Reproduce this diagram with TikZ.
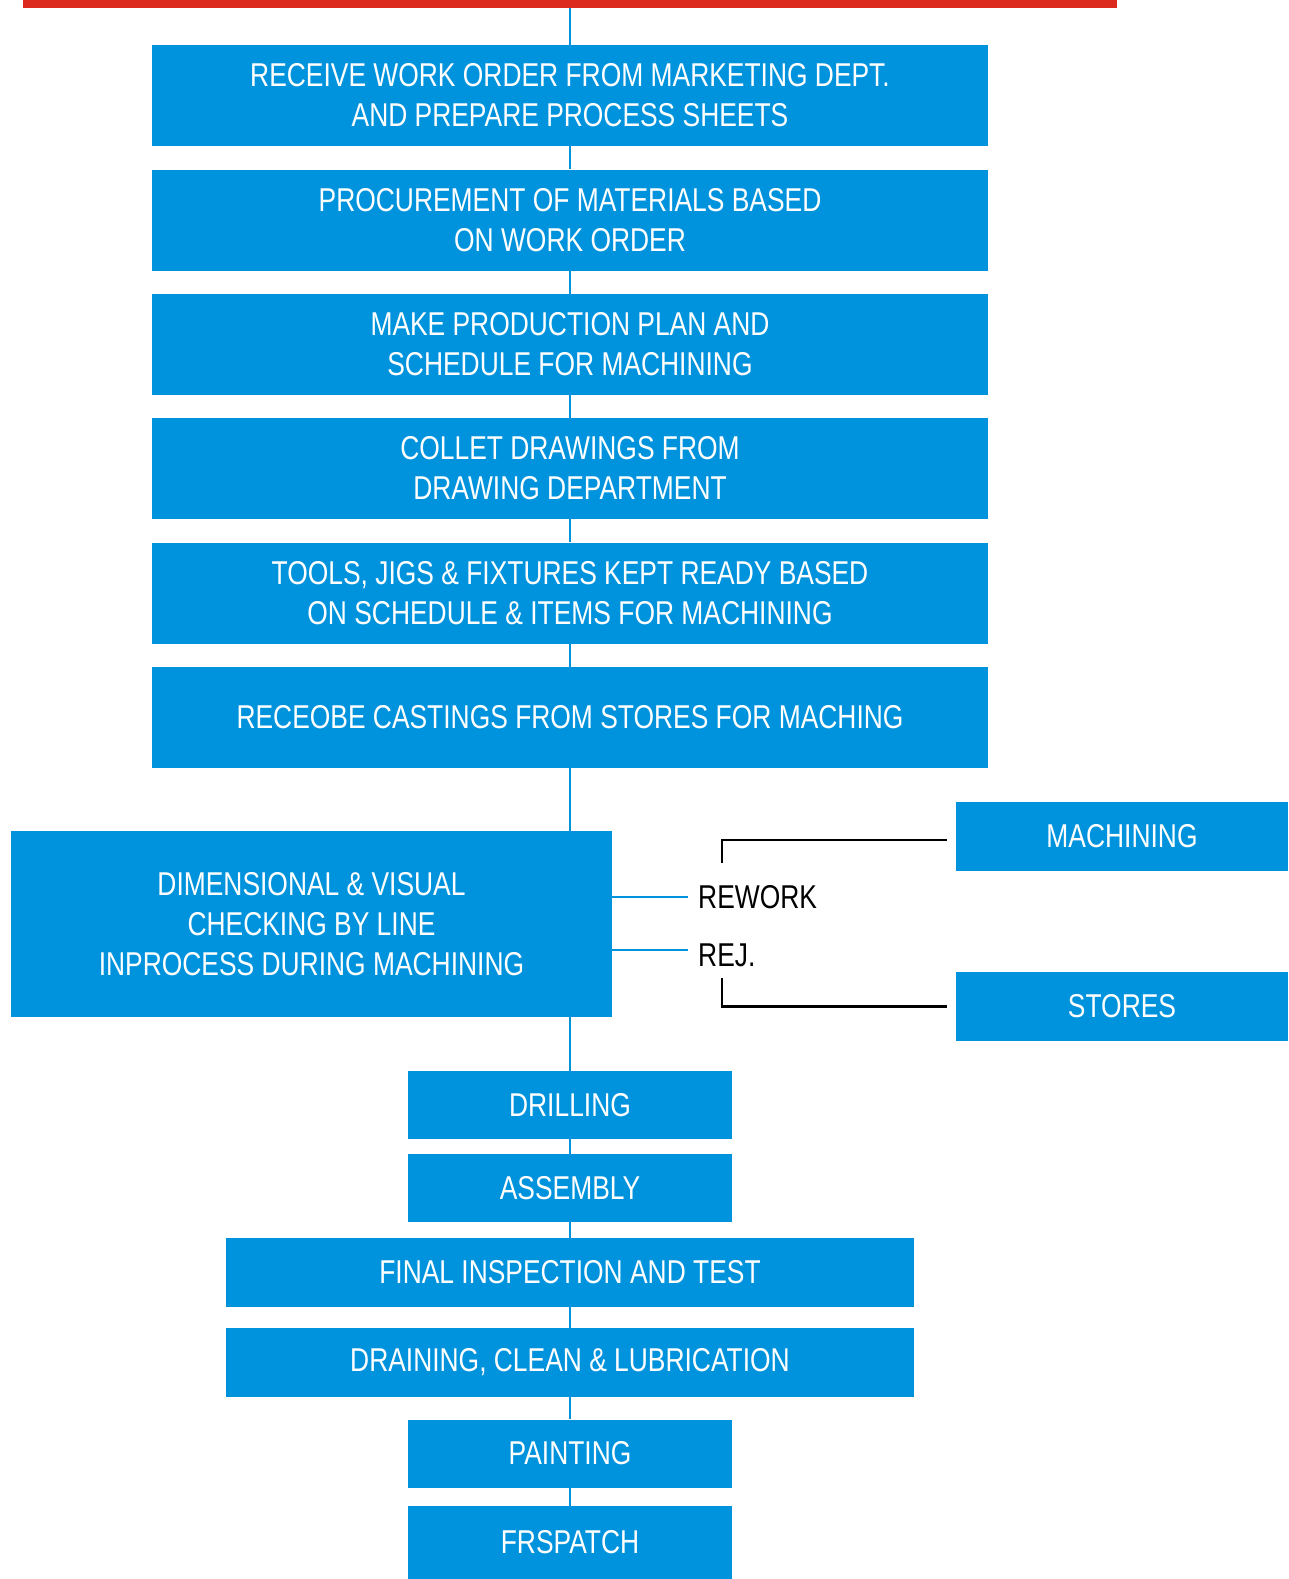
\documentclass[tikz,border=0pt]{standalone}
\usepackage{fontspec}
\setmainfont{Liberation Sans}[FakeStretch=0.8]
\usepackage{tikz}
\usetikzlibrary{positioning,calc}

\definecolor{stepblue}{HTML}{0093DD}
\definecolor{barred}{HTML}{DC2A1E}

\begin{document}
\begin{tikzpicture}[%
x=1pt,y=-1pt,
stage/.style={rectangle, fill=stepblue, text=white, inner sep=0pt,
  align=center, font=\fontsize{33}{40}\selectfont},
wide/.style={stage, minimum width=836pt, minimum height=101pt},
small/.style={stage, minimum width=324pt, minimum height=68pt},
mid/.style={stage, minimum width=688pt, minimum height=69pt},
side/.style={stage, minimum width=332pt, minimum height=69pt},
tag/.style={inner xsep=10pt, inner ysep=0pt, font=\fontsize{33}{40}\selectfont},
blueline/.style={draw=stepblue, line width=2.5pt},
blackline/.style={draw=black, line width=2.5pt}
]
\useasboundingbox (0,0) rectangle (1288,1579);

\node[fill=barred, inner sep=0pt, minimum width=1094pt, minimum height=8pt,
  anchor=north west] (bar) at (23,0) {};

\node[wide] (order) at (570,95.5) {RECEIVE WORK ORDER FROM MARKETING DEPT.\\AND PREPARE PROCESS SHEETS};
\node[wide] (procure) at (570,220) {PROCUREMENT OF MATERIALS BASED\\ON WORK ORDER};
\node[wide] (plan) at (570,344.5) {MAKE PRODUCTION PLAN AND\\SCHEDULE FOR MACHINING};
\node[wide] (drawings) at (570,468.5) {COLLET DRAWINGS FROM\\DRAWING DEPARTMENT};
\node[wide] (tools) at (570,593) {TOOLS, JIGS \& FIXTURES KEPT READY BASED\\ON SCHEDULE \& ITEMS FOR MACHINING};
\node[wide] (castings) at (570,717.5) {RECEOBE CASTINGS FROM STORES FOR MACHING};

\node[stage, minimum width=601pt, minimum height=186pt] (check) at (311.5,924)
  {DIMENSIONAL \& VISUAL\\CHECKING BY LINE\\INPROCESS DURING MACHINING};

\node[tag, anchor=west] (rework) at (688,897) {REWORK};
\node[tag, anchor=west] (rej) at (688,955) {REJ.};
\node[side] (machining) at (1122,836.5) {MACHINING};
\node[side] (stores) at (1122,1006.5) {STORES};

\node[small] (drilling) at (570,1105) {DRILLING};
\node[small] (assembly) at (570,1188) {ASSEMBLY};
\node[mid] (final) at (570,1272.5) {FINAL INSPECTION AND TEST};
\node[mid] (draining) at (570,1362.5) {DRAINING, CLEAN \& LUBRICATION};
\node[small] (painting) at (570,1453.5) {PAINTING};
\node[small, minimum height=73pt] (despatch) at (570,1542.5) {FRSPATCH};

% main flow
\path[blueline] (bar.south -| order.north) edge (order.north);
\path[blueline] (order) edge (procure);
\path[blueline] (procure) edge (plan);
\path[blueline] (plan) edge (drawings);
\path[blueline] (drawings) edge (tools);
\path[blueline] (tools) edge (castings);
\path[blueline] (castings.south) edge (castings.south |- check.north);
\path[blueline] (castings.south |- check.south) edge (drilling.north);
\path[blueline] (drilling) edge (assembly);
\path[blueline] (assembly) edge (final);
\path[blueline] (final) edge (draining);
\path[blueline] (draining) edge (painting);
\path[blueline] (painting) edge (despatch);

% branches
\path[blueline] (check.east |- rework) edge (rework.west);
\path[blueline] (check.east |- 0,950) edge (rej.west |- 0,950);

\coordinate (rwk) at (722,863);
\coordinate (rj) at (722,978);
\draw[blackline] (rwk) |- ([xshift=-9pt,yshift=-3.5pt]machining.west);
\draw[blackline] (rj) |- ([xshift=-9pt]stores.west);

\end{tikzpicture}
\end{document}
